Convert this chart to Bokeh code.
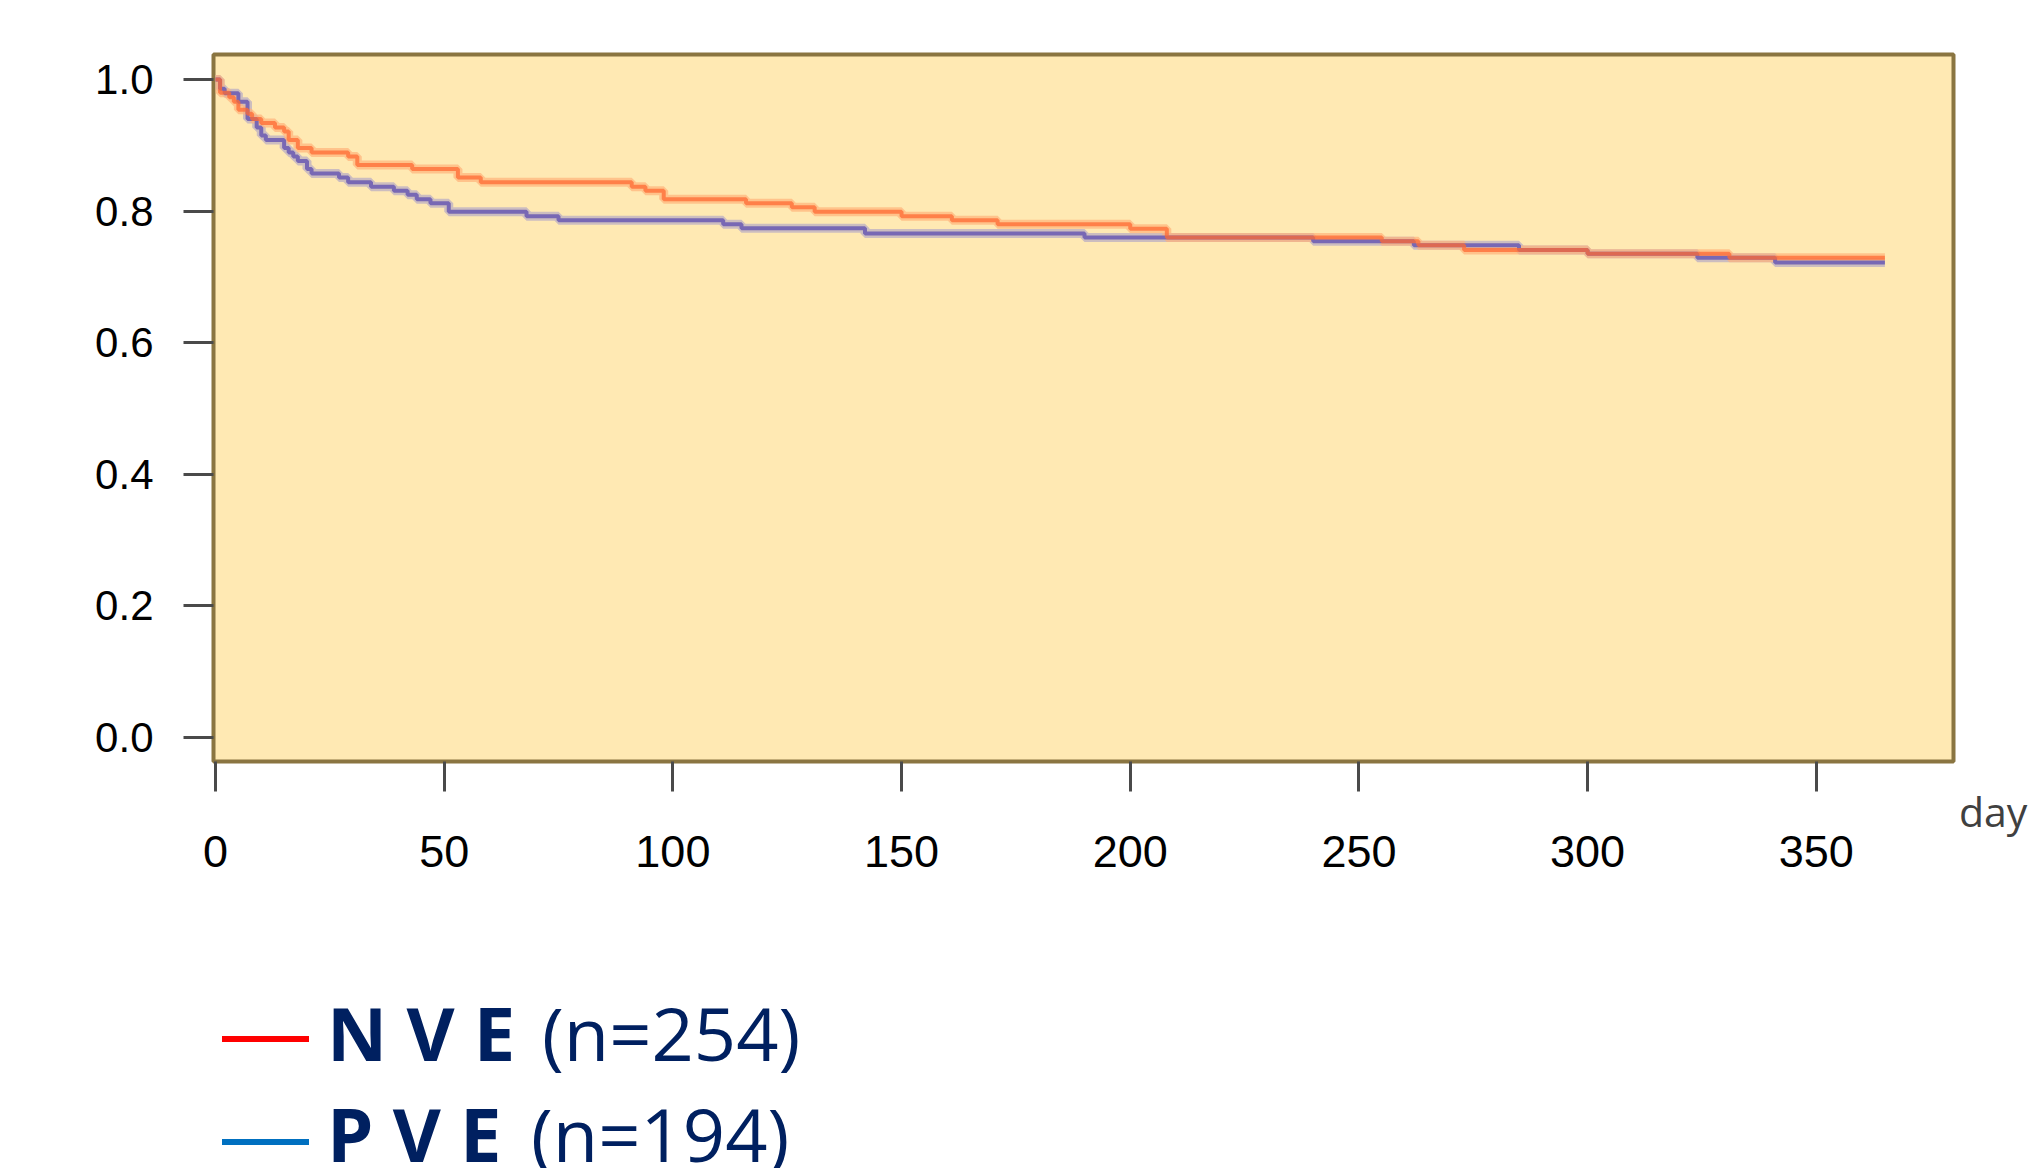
from bokeh.plotting import figure
from bokeh.layouts import column, row
from bokeh.models import Range1d, FixedTicker, PrintfTickFormatter, Div
from bokeh.embed import file_html
from bokeh.resources import INLINE

# ---- data ----
nve_days = [0, 1, 3, 4, 5, 7, 8, 10, 13, 15, 16, 18, 21, 29, 31, 43, 53, 58, 91, 94, 98,
            116, 126, 131, 150, 161, 171, 200, 208, 255, 263, 273, 300, 331, 365]
nve_surv = [1.0, 0.980, 0.973, 0.966, 0.954, 0.948, 0.940, 0.934, 0.927, 0.921, 0.908,
            0.896, 0.889, 0.883, 0.870, 0.864, 0.851, 0.844, 0.837, 0.831, 0.818,
            0.812, 0.806, 0.799, 0.792, 0.786, 0.780, 0.773, 0.760, 0.754, 0.748,
            0.741, 0.735, 0.729, 0.729]
pve_days = [0, 1, 2, 5, 7, 9, 10, 11, 15, 16, 17, 18, 20, 21, 27, 29, 34, 39, 42, 44, 47,
            51, 68, 75, 111, 115, 142, 190, 240, 262, 285, 300, 324, 341, 365]
pve_surv = [1.0, 0.986, 0.979, 0.966, 0.940, 0.927, 0.915, 0.908, 0.896, 0.889, 0.883,
            0.876, 0.864, 0.857, 0.851, 0.844, 0.837, 0.831, 0.825, 0.818, 0.812,
            0.799, 0.792, 0.786, 0.780, 0.774, 0.766, 0.760, 0.754, 0.748, 0.741,
            0.735, 0.729, 0.722, 0.722]
x_ticks = [0, 50, 100, 150, 200, 250, 300, 350]
y_ticks = [0.0, 0.2, 0.4, 0.6, 0.8, 1.0]
x_unit = "day"
legend_names = ["N V E", "P V E"]
legend_counts = ["(n=254)", "(n=194)"]
legend_colors = ["#FF0000", "#0070C0"]

W_TOTAL = 2032
W_MAIN = 1958
H_MAIN = 880
H_LEG = 1168 - H_MAIN

p = figure(width=W_MAIN, height=H_MAIN, output_backend="svg", toolbar_location=None,
           x_range=Range1d(-0.44, 380), y_range=Range1d(-0.0365, 1.038),
           min_border_left=213, min_border_right=5, min_border_top=54, min_border_bottom=119)
p.background_fill_color = "#FFE9B3"
p.border_fill_color = "white"
p.outline_line_color = "#8A7541"
p.outline_line_width = 4
p.xgrid.visible = False
p.ygrid.visible = False

for ax in (p.xaxis[0], p.yaxis[0]):
    ax.axis_line_color = None
    ax.major_tick_in = 0
    ax.major_tick_out = 30
    ax.major_tick_line_color = "#4A4A4A"
    ax.major_tick_line_width = 3
    ax.minor_tick_line_color = None
    ax.major_label_text_font = "Liberation Sans"
    ax.major_label_text_color = "black"

p.xaxis.ticker = FixedTicker(ticks=x_ticks)
p.yaxis.ticker = FixedTicker(ticks=y_ticks)
p.yaxis.formatter = PrintfTickFormatter(format="%.1f")
p.xaxis.major_label_text_font_size = "45px"
p.yaxis.major_label_text_font_size = "42px"
p.xaxis.major_label_standoff = 44
p.yaxis.major_label_standoff = 30

# light halo then main step lines
p.step(pve_days, pve_surv, mode="after", line_color="#B7A9C4", line_width=9, line_alpha=0.7)
p.step(nve_days, nve_surv, mode="after", line_color="#FFB27A", line_width=9, line_alpha=0.7)
p.step(pve_days, pve_surv, mode="after", line_color="#7868B4", line_width=4)
p.step(nve_days, nve_surv, mode="after", line_color="#FF6A33", line_width=4, line_alpha=0.75)

# unit label to the right of the x axis
day_div = Div(
    text=('<div style="position:relative;width:74px;height:%dpx;">'
          '<span style="position:absolute;left:1px;top:791px;white-space:nowrap;'
          'font-family:\'Open Sans\';font-size:41px;line-height:1;color:#404040;">%s</span></div>')
    % (H_MAIN, x_unit),
    width=W_TOTAL - W_MAIN, height=H_MAIN, margin=0)

# legend below the chart
row_tops_line = [156, 259]
row_tops_text = [116, 217]
name_left = [327, 327]
count_left = [542, 531]
parts = ['<div style="position:relative;width:%dpx;height:%dpx;overflow:hidden;">' % (W_TOTAL, H_LEG)]
for i in range(2):
    parts.append('<div style="position:absolute;left:222px;top:%dpx;width:87px;height:6px;background:%s;"></div>'
                 % (row_tops_line[i], legend_colors[i]))
    parts.append('<span style="position:absolute;left:%dpx;top:%dpx;white-space:nowrap;font-family:\'Open Sans\';'
                 'font-weight:bold;font-size:74px;line-height:1;color:#002060;">%s</span>'
                 % (name_left[i], row_tops_text[i], legend_names[i]))
    parts.append('<span style="position:absolute;left:%dpx;top:%dpx;white-space:nowrap;font-family:\'Open Sans\';'
                 'font-size:74px;line-height:1;color:#002060;">%s</span>'
                 % (count_left[i], row_tops_text[i], legend_counts[i]))
parts.append('</div>')
legend_div = Div(text="".join(parts), width=W_TOTAL, height=H_LEG, margin=0)

layout = column(row(p, day_div, spacing=0), legend_div, spacing=0)
open("out.html", "w").write(file_html(layout, INLINE))
